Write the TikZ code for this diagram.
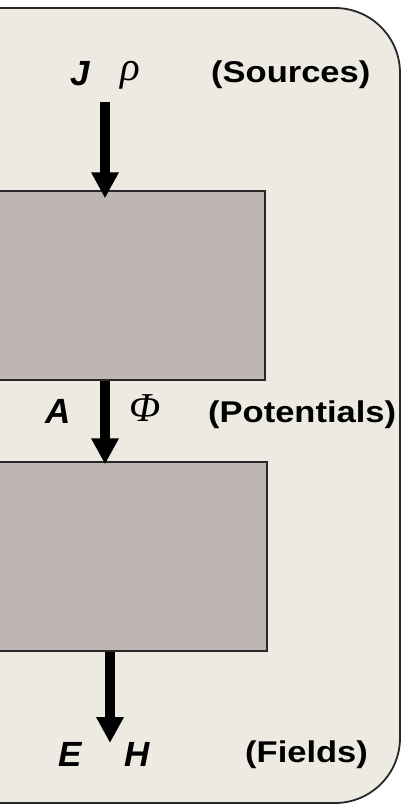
\documentclass[tikz,border=0pt]{standalone}
\usepackage{fontspec}
\setmainfont{Liberation Sans}
\newfontfamily\tagfont[FakeStretch=1.15]{Liberation Sans}
\newfontfamily\greekfont{Liberation Serif}
\usetikzlibrary{arrows.meta}
\definecolor{panelbg}{RGB}{237,234,226}
\definecolor{boxgray}{RGB}{190,182,180}
\definecolor{edgegray}{RGB}{40,40,40}

\begin{document}
\begin{tikzpicture}[x=1pt, y=-1pt,
  block/.style={draw=edgegray, line width=1.5pt, fill=boxgray, minimum width=300pt, minimum height=189pt, inner sep=0pt},
  flow/.style={line width=10pt, -{Triangle[width=26pt, length=26pt]}},
  sym/.style={inner sep=0pt, anchor=base west, font=\fontsize{35}{40}\selectfont\bfseries\itshape},
  grk/.style={inner sep=0pt, anchor=base west, font=\fontsize{41}{46}\selectfont\greekfont\itshape},
  tag/.style={inner sep=0pt, anchor=base west, font=\fontsize{30}{36}\selectfont\tagfont\bfseries}]
\useasboundingbox (0,0) rectangle (405,808);
\fill[white] (0,0) rectangle (405,808);
\clip (0,0) rectangle (405,808);
% background panel
\draw[fill=panelbg, draw=edgegray, line width=1.8pt, rounded corners=65pt] (-100,8) rectangle (400,803);
% blocks
\node[block] (srcbox) at (115,285.5) {};
\node[block] (potbox) at (117,556.5) {};
% sources
\node[sym] (J) at (70,85) {J};
\node[grk] (rho) at (120,81) {ρ};
\node[tag] (sources) at (211,82) {(Sources)};
% potentials
\node[sym] (A) at (45,423) {A};
\node[grk] (phi) at (129,421) {Φ};
\node[tag] (potentials) at (208,422) {(Potentials)};
% fields
\node[sym] (E) at (58,766) {E};
\node[sym] (H) at (124,766) {H};
\node[tag] (fields) at (245,762) {(Fields)};
% arrows
\coordinate (jtop) at (105,102);
\coordinate (fend) at (110,743);
\draw[flow] (jtop) -- ([yshift=-8pt]jtop |- srcbox.north);
\draw[flow] (srcbox.south -| jtop) -- ([yshift=-3pt]potbox.north -| jtop);
\draw[flow] (potbox.south -| fend) -- (fend);
\end{tikzpicture}
\end{document}
